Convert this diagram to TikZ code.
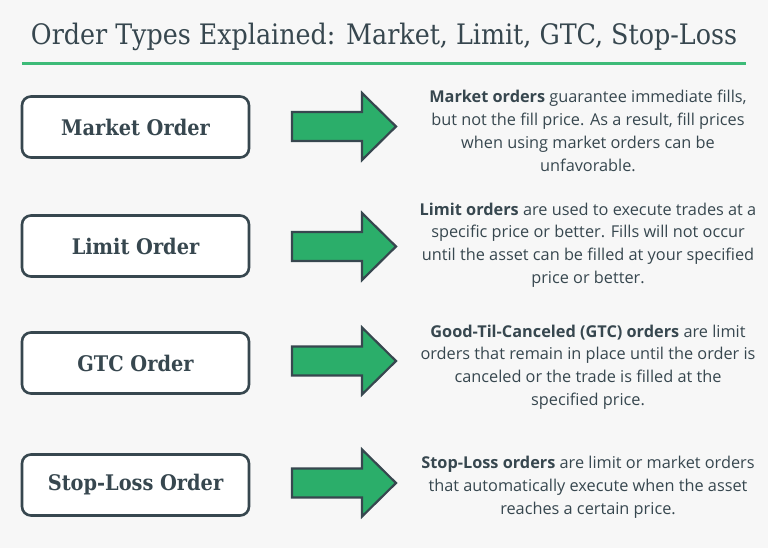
\documentclass[tikz,border=0pt]{standalone}
\usepackage{fontspec}
\setmainfont{Open Sans}
\newfontfamily\slabfont{DejaVu Serif Condensed}
\definecolor{bg}{HTML}{F7F7F7}
\definecolor{ink}{HTML}{37474F}
\definecolor{grn}{HTML}{2BAE6A}
\definecolor{rule}{HTML}{3DBB78}
\tikzset{
  ordbox/.style={draw=ink, line width=2.6pt, fill=white, rounded corners=9pt,
    minimum width=227pt, minimum height=61pt, inner sep=0pt},
  ordlabel/.style={font=\slabfont\bfseries\fontsize{21.5}{24}\selectfont, text=ink, anchor=center},
  desc/.style={font=\fontsize{16.3}{22.8}\selectfont, text=ink, align=center, anchor=center, inner sep=0pt},
  bigarrow/.style={draw=ink, line width=2.2pt, fill=grn, line join=miter}
}
\newcommand{\greenarrow}[1]{%
  \draw[bigarrow] ($(#1)+(0,-14.5)$) -- ++(70,0) -- ++(0,-19) -- ++(34,33.5) -- ++(-34,33.5) -- ++(0,-19) -- ++(-70,0) -- cycle;}
\usetikzlibrary{calc}
\begin{document}
\begin{tikzpicture}[x=1pt,y=-1pt]
\fill[bg] (0,0) rectangle (768,548);
\useasboundingbox (0,0) rectangle (768,548);
\node[font=\slabfont\fontsize{28.2}{32}\selectfont, text=ink, anchor=base] (title) at (384,45) {Order Types Explained: Market, Limit, GTC, Stop-Loss};
\draw[rule, line width=3pt] (22,64) -- (746,64);

\node[ordbox] (b1) at (135.5,127) {};
\node[ordbox] (b2) at (135.5,246) {};
\node[ordbox] (b3) at (135.5,363) {};
\node[ordbox] (b4) at (135.5,485) {};
\node[ordlabel] at (b1) {Market Order};
\node[ordlabel] at (b2) {Limit Order};
\node[ordlabel] at (b3) {GTC Order};
\node[ordlabel] at (b4) {Stop-Loss Order};

\coordinate (a1) at (292,126.5);
\coordinate (a2) at (292,246.5);
\coordinate (a3) at (292,361);
\coordinate (a4) at (292,483);
\greenarrow{a1}
\greenarrow{a2}
\greenarrow{a3}
\greenarrow{a4}

\node[desc] (d1) at (588,131) {\textbf{Market orders} guarantee immediate fills,\\but not the fill price. As a result, fill prices\\when using market orders can be\\unfavorable.};
\node[desc] (d2) at (588,245) {\textbf{Limit orders} are used to execute trades at a\\specific price or better. Fills will not occur\\until the asset can be filled at your specified\\price or better.};
\node[desc] (d3) at (588,367) {\textbf{Good-Til-Canceled (GTC) orders} are limit\\orders that remain in place until the order is\\canceled or the trade is filled at the\\specified price.};
\node[desc] (d4) at (588,487) {\textbf{Stop-Loss orders} are limit or market orders\\that automatically execute when the asset\\reaches a certain price.};
\end{tikzpicture}
\end{document}
